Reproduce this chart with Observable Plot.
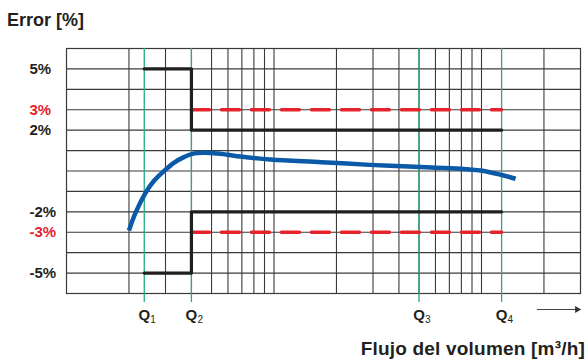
<!DOCTYPE html>
<html>
<head>
<meta charset="utf-8">
<script src="https://cdn.jsdelivr.net/npm/d3@7"></script>
<script src="https://cdn.jsdelivr.net/npm/@observablehq/plot@0.6"></script>
<style>
  html, body { margin: 0; padding: 0; background: #fff; }
  #wrap { position: relative; width: 587px; height: 360px; font-family: "Liberation Sans", Arial, sans-serif; color: #231f20; }
  #title { position: absolute; left: 7px; top: 11px; font-size: 18px; line-height: 18px; font-weight: bold; }
  #chart { position: absolute; left: 0; top: 40px; }
  #xlabel { position: absolute; right: 2px; top: 339px; font-size: 19px; line-height: 19px; font-weight: bold; letter-spacing: 0.2px; }
</style>
</head>
<body>
<div id="wrap">
  <div id="title">Error [%]</div>
  <div id="chart"></div>
  <div id="xlabel">Flujo del volumen [m³/h]</div>
</div>
<script>
// Y tick labels
const yTickValues = [5, 3, 2, -2, -3, -5];
const yTickLabels = ["5%", "3%", "2%", "-2%", "-3%", "-5%"];
const yTickColors = ["#231f20", "#e5232b", "#231f20", "#231f20", "#e5232b", "#231f20"];

// Grid lines (log scale decades)
const xGrid = [2, 3, 4, 5, 6, 7, 8, 9, 10, 20, 30, 40, 50, 60, 70, 80, 90, 100, 200];
const yGrid = [-5, -4, -3, -2, -1, 0, 1, 2, 3, 4, 5];

// Flow rates Q1..Q4
const qValues = [2.37, 4, 50, 125];
const qSubs = ["1", "2", "3", "4"];

// Maximum permissible error (black)
const mpeX = [2.37, 4, 4, 125];
const mpeUpper = [5, 5, 2, 2];
const mpeLower = [-5, -5, -2, -2];

// In-service limits (red dashed)
const serviceX = [4, 125];
const serviceUpper = [3, 3];
const serviceLower = [-3, -3];

// Measured error curve (blue)
const flowX = [2, 2.15, 2.4, 2.63, 2.94, 3.29, 3.68, 4.04, 4.59, 5.3, 5.95, 6.9, 9.6, 17, 29, 51, 79, 99, 115, 128, 146];
const errorY = [-2.91, -2.05, -1.08, -0.5, -0.02, 0.40, 0.68, 0.84, 0.89, 0.86, 0.8, 0.71, 0.56, 0.43, 0.3, 0.19, 0.11, 0.02, -0.11, -0.22, -0.38];

// Flow direction arrow extent
const arrowX = [185, 289];

const yTicks = yTickValues.map((v, i) => ({v, label: yTickLabels[i], color: yTickColors[i]}));
const qs = qValues.map((v, i) => ({v, sub: qSubs[i]}));
const mpeU = mpeX.map((x, i) => ({x, y: mpeUpper[i]}));
const mpeL = mpeX.map((x, i) => ({x, y: mpeLower[i]}));
const srvU = serviceX.map((x, i) => ({x, y: serviceUpper[i]}));
const srvL = serviceX.map((x, i) => ({x, y: serviceLower[i]}));
const curve = flowX.map((x, i) => ({x, y: errorY[i]}));

const gridColor = "#3a3a3a";
const green = "#22ad82";
const black = "#1f1f1f";
const red = "#e5232b";
const blue = "#0a5aa8";

const chart = Plot.plot({
  width: 587,
  height: 290,
  marginTop: 8,
  marginBottom: 37,
  marginLeft: 66,
  marginRight: 7,
  style: {fontFamily: "'Liberation Sans', Arial, sans-serif", background: "#fff", overflow: "visible"},
  x: {type: "log", domain: [1, 300], axis: null},
  y: {domain: [-6, 6], axis: null},
  color: {type: "identity"},
  marks: [
    Plot.ruleY(yGrid, {stroke: gridColor, strokeWidth: 1.1}),
    Plot.ruleX(xGrid, {stroke: gridColor, strokeWidth: 1.1}),
    Plot.frame({stroke: gridColor, strokeWidth: 1.2}),
    Plot.ruleX(qValues, {stroke: green, strokeWidth: 1.3, insetBottom: -9}),
    Plot.line(srvU, {x: "x", y: "y", stroke: red, strokeWidth: 3.5, strokeDasharray: "18,12"}),
    Plot.line(srvL, {x: "x", y: "y", stroke: red, strokeWidth: 3.5, strokeDasharray: "18,12"}),
    Plot.line(mpeU, {x: "x", y: "y", stroke: black, strokeWidth: 3.2}),
    Plot.line(mpeL, {x: "x", y: "y", stroke: black, strokeWidth: 3.2}),
    Plot.line(curve, {x: "x", y: "y", stroke: blue, strokeWidth: 4.5, curve: "catmull-rom", strokeLinecap: "butt"}),
    Plot.text(yTicks, {frameAnchor: "left", y: "v", text: "label", fill: "color", textAnchor: "start", dx: -37, fontSize: 15, fontWeight: "bold"}),
    Plot.text(qs, {frameAnchor: "bottom", x: "v", text: () => "Q", textAnchor: "middle", lineAnchor: "bottom", dy: 26, fontSize: 15, fontWeight: "bold", fill: "#231f20"}),
    Plot.text(qs, {frameAnchor: "bottom", x: "v", text: "sub", textAnchor: "start", lineAnchor: "bottom", dx: 6, dy: 29.5, fontSize: 10, fill: "#231f20"}),
    Plot.link([{x1: arrowX[0], x2: arrowX[1]}], {x1: "x1", x2: "x2", y1: () => -6, y2: () => -6, dy: 16, stroke: "#444", strokeWidth: 1.2}),
    Plot.dot([{x: arrowX[1]}], {x: "x", y: () => -6, dy: 16, symbol: "triangle", rotate: 90, r: 2.6, fill: "#333", stroke: "none"})
  ]
});
document.getElementById("chart").appendChild(chart);
</script>
</body>
</html>
